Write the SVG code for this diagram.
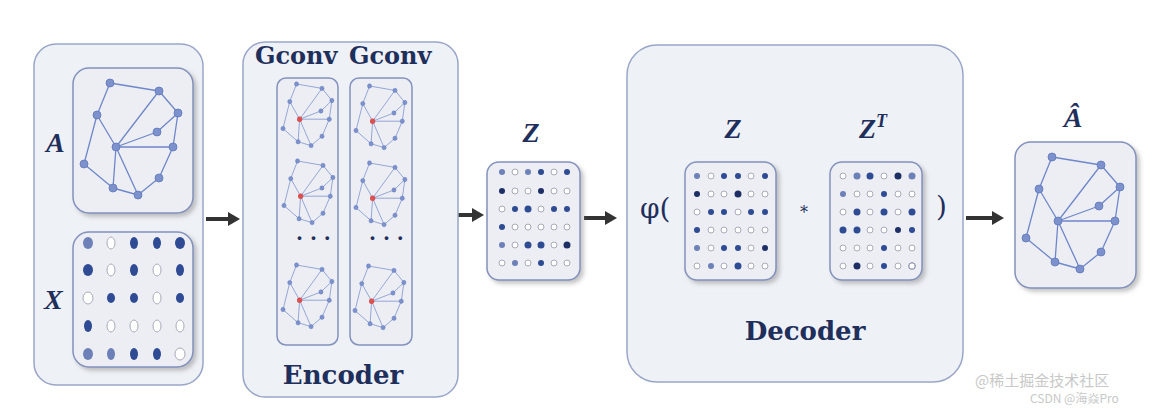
<svg xmlns="http://www.w3.org/2000/svg" width="1154" height="408" viewBox="0 0 1154 408">
<defs>
<style>
.outer{fill:#eef1f6;stroke:#9aa6c8;stroke-width:1.5}
.inner{fill:#eceef3;stroke:#8391bd;stroke-width:1.5}
.e{stroke:#6f87c9;stroke-width:1.3;fill:none}
.n{fill:#7d92cc;stroke:#5f77bb;stroke-width:0.8}
.lbl{font-family:"Liberation Serif",serif;font-weight:bold;font-style:italic;fill:#1f2f5c;font-size:28px}
.title{font-family:"DejaVu Serif","Liberation Serif",serif;font-weight:bold;fill:#1f2f5c;font-size:24px}
.op{font-family:"DejaVu Serif",serif;fill:#1f2f5c;font-size:26px}
.arr{stroke:#333;stroke-width:4;fill:none}
.d1{fill:#ffffff;stroke:#aab}.d2{fill:#2e4b94}.d3{fill:#6d80b8}.d4{fill:#1e2f66}
.wm{font-family:"Noto Sans CJK SC",sans-serif;font-size:15px;fill:#c8c8c8}
</style>
<marker id="ah" markerUnits="userSpaceOnUse" markerWidth="12" markerHeight="14" refX="2" refY="7" orient="auto"><path d="M0,0 L12,7 L0,14 z" fill="#333"/></marker>
<filter id="sh" x="-10%" y="-10%" width="130%" height="130%"><feDropShadow dx="3" dy="3" stdDeviation="2" flood-color="#888" flood-opacity="0.5"/></filter>
<g id="graph">
<path class="e" d="M26,0 L75,8 M26,0 L13,32 M13,32 L32,64 M32,64 L75,8 M75,8 L94,30 M94,30 L73,49 M73,49 L32,64 M32,64 L89,64 M94,30 L89,64 M13,32 L0,81 M0,81 L29,105 M32,64 L29,105 M32,64 L54,112 M29,105 L54,112 M54,112 L75,95 M75,95 L89,64"/>
<g class="n"><circle cx="26" cy="0" r="4"/><circle cx="75" cy="8" r="4"/><circle cx="13" cy="32" r="4"/><circle cx="94" cy="30" r="4"/><circle cx="73" cy="49" r="4"/><circle cx="89" cy="64" r="4"/><circle cx="0" cy="81" r="4"/><circle cx="75" cy="95" r="4"/><circle cx="29" cy="105" r="4"/><circle cx="54" cy="112" r="4"/><circle cx="32" cy="64" r="4"/></g>
</g>
<g id="sg"><use href="#graph"/><circle cx="32" cy="64" r="5" fill="#e05050"/></g>
</defs>
<rect width="1154" height="408" fill="#fff"/>
<g id="connectors">
<line class="arr" x1="206" y1="219" x2="230" y2="219" marker-end="url(#ah)"/>
<line class="arr" x1="451" y1="215" x2="474" y2="215" marker-end="url(#ah)"/>
<line class="arr" x1="584" y1="218" x2="607" y2="218" marker-end="url(#ah)"/>
<line class="arr" x1="966" y1="218" x2="994" y2="218" marker-end="url(#ah)"/>
</g>
<g id="input">
<rect class="outer" x="34" y="44" width="169" height="341" rx="22"/>
<text class="lbl" x="46" y="152">A</text>
<text class="lbl" x="44" y="309">X</text>
<rect class="inner" x="73" y="68" width="120" height="145" rx="16" filter="url(#sh)"/>
<use href="#graph" transform="translate(84,83)"/>
<rect class="inner" x="73" y="232" width="120" height="135" rx="16" filter="url(#sh)"/>
<g>
<ellipse cx="88" cy="243" rx="5" ry="6" class="d3"/><ellipse cx="111" cy="243" rx="4" ry="6" class="d1"/><ellipse cx="134" cy="243" rx="4" ry="6" class="d2"/><ellipse cx="157" cy="243" rx="4" ry="6" class="d2"/><ellipse cx="180" cy="243" rx="5" ry="6" class="d2"/>
<ellipse cx="88" cy="270" rx="5" ry="6" class="d2"/><ellipse cx="111" cy="270" rx="4" ry="6" class="d1"/><ellipse cx="134" cy="270" rx="4" ry="6" class="d2"/><ellipse cx="157" cy="270" rx="4" ry="6" class="d1"/><ellipse cx="180" cy="270" rx="4" ry="6" class="d2"/>
<ellipse cx="88" cy="298" rx="5" ry="6" class="d1"/><ellipse cx="111" cy="298" rx="4" ry="5" class="d2"/><ellipse cx="134" cy="298" rx="4" ry="5" class="d2"/><ellipse cx="157" cy="298" rx="4" ry="6" class="d1"/><ellipse cx="180" cy="298" rx="4" ry="5" class="d2"/>
<ellipse cx="88" cy="326" rx="4" ry="6" class="d2"/><ellipse cx="111" cy="326" rx="4" ry="6" class="d1"/><ellipse cx="134" cy="326" rx="4" ry="6" class="d1"/><ellipse cx="157" cy="326" rx="4" ry="6" class="d1"/><ellipse cx="180" cy="326" rx="4" ry="6" class="d1"/>
<ellipse cx="88" cy="354" rx="5" ry="6" class="d3"/><ellipse cx="111" cy="354" rx="4" ry="6" class="d3"/><ellipse cx="134" cy="354" rx="4" ry="6" class="d2"/><ellipse cx="157" cy="354" rx="4" ry="6" class="d2"/><ellipse cx="180" cy="354" rx="5" ry="6" class="d1"/>
</g>
</g>
<g id="encoder">
<rect class="outer" x="243" y="42" width="215" height="355" rx="22"/>
<text class="title" x="255" y="64">Gconv</text>
<text class="title" x="349" y="64">Gconv</text>
<rect class="inner" x="277" y="78" width="61" height="267" rx="9"/>
<rect class="inner" x="350" y="78" width="62" height="267" rx="9"/>
<use href="#sg" transform="translate(283,84) scale(0.52,0.55)"/>
<use href="#sg" transform="translate(284,161) scale(0.52,0.55)"/>
<use href="#sg" transform="translate(283,265) scale(0.52,0.55)"/>
<use href="#sg" transform="translate(356,86) scale(0.52,0.55)"/>
<use href="#sg" transform="translate(356,163) scale(0.52,0.55)"/>
<use href="#sg" transform="translate(355,266) scale(0.52,0.55)"/>
<text class="title" x="296" y="240" style="font-size:20px">. . .</text>
<text class="title" x="369" y="240" style="font-size:20px">. . .</text>
<text class="title" x="343" y="384" text-anchor="middle" style="font-size:26px">Encoder</text>
</g>
<g id="z">
<text class="lbl" x="531" y="142" text-anchor="middle">Z</text>
<rect class="inner" x="487" y="162" width="93" height="118" rx="12" filter="url(#sh)"/>
<g class="d3"><circle cx="502" cy="172" r="3"/><circle cx="528" cy="172" r="3"/><circle cx="541" cy="172" r="3" class="d2"/><circle cx="567" cy="172" r="3" class="d2"/><circle cx="502" cy="191" r="3" class="d4"/><circle cx="541" cy="191" r="3" class="d4"/><circle cx="515" cy="209" r="3" class="d2"/><circle cx="528" cy="209" r="3.5" class="d2"/><circle cx="554" cy="209" r="3" class="d2"/><circle cx="567" cy="209" r="3" class="d2"/><circle cx="502" cy="227" r="3" class="d2"/><circle cx="502" cy="245" r="3"/><circle cx="528" cy="245" r="3.5" class="d2"/><circle cx="541" cy="245" r="3.5" class="d2"/><circle cx="567" cy="245" r="3.5" class="d4"/><circle cx="515" cy="263" r="3"/><circle cx="541" cy="263" r="3" class="d2"/></g>
<g class="d1"><circle cx="515" cy="172" r="3"/><circle cx="554" cy="172" r="3"/><circle cx="515" cy="191" r="3"/><circle cx="528" cy="191" r="3"/><circle cx="554" cy="191" r="3"/><circle cx="567" cy="191" r="3"/><circle cx="502" cy="209" r="3"/><circle cx="541" cy="209" r="3"/><circle cx="515" cy="227" r="3"/><circle cx="528" cy="227" r="3"/><circle cx="541" cy="227" r="3"/><circle cx="554" cy="227" r="3"/><circle cx="567" cy="227" r="3"/><circle cx="515" cy="245" r="3"/><circle cx="554" cy="245" r="3"/><circle cx="502" cy="263" r="3"/><circle cx="528" cy="263" r="3"/><circle cx="554" cy="263" r="3"/><circle cx="567" cy="263" r="3"/></g>
</g>
<g id="decoder">
<rect class="outer" x="627" y="45" width="336" height="337" rx="30"/>
<text class="lbl" x="733" y="138" text-anchor="middle">Z</text>
<text class="lbl" x="873" y="138" text-anchor="middle">Z<tspan dy="-11" font-size="18">T</tspan></text>
<text class="op" x="640" y="218" style="font-size:28px">φ(</text>
<text class="op" x="800" y="218" style="font-size:16px">*</text>
<text class="op" x="936" y="216" style="font-size:28px">)</text>
<rect class="inner" x="685" y="162" width="91" height="118" rx="12" filter="url(#sh)"/>
<rect class="inner" x="830" y="162" width="92" height="118" rx="12" filter="url(#sh)"/>
<g class="d2"><circle cx="697" cy="176" r="3" class="d3"/><circle cx="724" cy="176" r="3"/><circle cx="738" cy="176" r="3"/><circle cx="765" cy="176" r="3"/><circle cx="697" cy="194" r="3" class="d4"/><circle cx="738" cy="194" r="3.5" class="d4"/><circle cx="711" cy="212" r="3"/><circle cx="724" cy="212" r="3"/><circle cx="751" cy="212" r="3"/><circle cx="765" cy="212" r="3"/><circle cx="697" cy="230" r="3"/><circle cx="697" cy="248" r="3" class="d3"/><circle cx="724" cy="248" r="3"/><circle cx="738" cy="248" r="3"/><circle cx="765" cy="248" r="3" class="d4"/><circle cx="711" cy="266" r="3" class="d3"/><circle cx="738" cy="266" r="3.5"/>
<circle cx="857" cy="176" r="3.5" class="d3"/><circle cx="870" cy="176" r="3.5"/><circle cx="898" cy="176" r="3.5" class="d4"/><circle cx="912" cy="176" r="3.5" class="d3"/><circle cx="843" cy="194" r="3" class="d3"/><circle cx="884" cy="194" r="3"/><circle cx="857" cy="212" r="3.5"/><circle cx="884" cy="212" r="3.5"/><circle cx="912" cy="212" r="3.5"/><circle cx="843" cy="230" r="3.5"/><circle cx="857" cy="230" r="3.5"/><circle cx="898" cy="230" r="3" class="d4"/><circle cx="912" cy="230" r="3"/><circle cx="884" cy="248" r="3"/><circle cx="857" cy="266" r="3.5" class="d4"/><circle cx="884" cy="266" r="3"/><circle cx="912" cy="266" r="3.5"/></g>
<g class="d1"><circle cx="711" cy="176" r="3"/><circle cx="751" cy="176" r="3"/><circle cx="711" cy="194" r="3"/><circle cx="724" cy="194" r="3"/><circle cx="751" cy="194" r="3"/><circle cx="765" cy="194" r="3"/><circle cx="697" cy="212" r="3"/><circle cx="738" cy="212" r="3"/><circle cx="711" cy="230" r="3"/><circle cx="724" cy="230" r="3"/><circle cx="738" cy="230" r="3"/><circle cx="751" cy="230" r="3"/><circle cx="765" cy="230" r="3"/><circle cx="711" cy="248" r="3"/><circle cx="751" cy="248" r="3"/><circle cx="697" cy="266" r="3"/><circle cx="724" cy="266" r="3"/><circle cx="751" cy="266" r="3"/><circle cx="765" cy="266" r="3"/>
<circle cx="843" cy="176" r="3"/><circle cx="884" cy="176" r="3"/><circle cx="857" cy="194" r="3"/><circle cx="870" cy="194" r="3"/><circle cx="898" cy="194" r="3"/><circle cx="912" cy="194" r="3"/><circle cx="843" cy="212" r="3"/><circle cx="870" cy="212" r="3"/><circle cx="898" cy="212" r="3"/><circle cx="870" cy="230" r="3"/><circle cx="884" cy="230" r="3"/><circle cx="843" cy="248" r="3"/><circle cx="857" cy="248" r="3"/><circle cx="870" cy="248" r="3"/><circle cx="898" cy="248" r="3"/><circle cx="912" cy="248" r="3"/><circle cx="843" cy="266" r="3"/><circle cx="870" cy="266" r="3"/><circle cx="898" cy="266" r="3"/><circle cx="912" cy="266" r="3"/></g>
<text class="title" x="805" y="340" text-anchor="middle" style="font-size:26px">Decoder</text>
</g>
<g id="ahat">
<text class="lbl" x="1073" y="127" text-anchor="middle">Â</text>
<rect class="inner" x="1015" y="142" width="121" height="146" rx="16" filter="url(#sh)"/>
<use href="#graph" transform="translate(1026,157)"/>
</g>
<text class="wm" x="975" y="386">@稀土掘金技术社区</text>
<text class="wm" x="1030" y="403" style="font-size:12px">CSDN @海焱Pro</text>
</svg>
